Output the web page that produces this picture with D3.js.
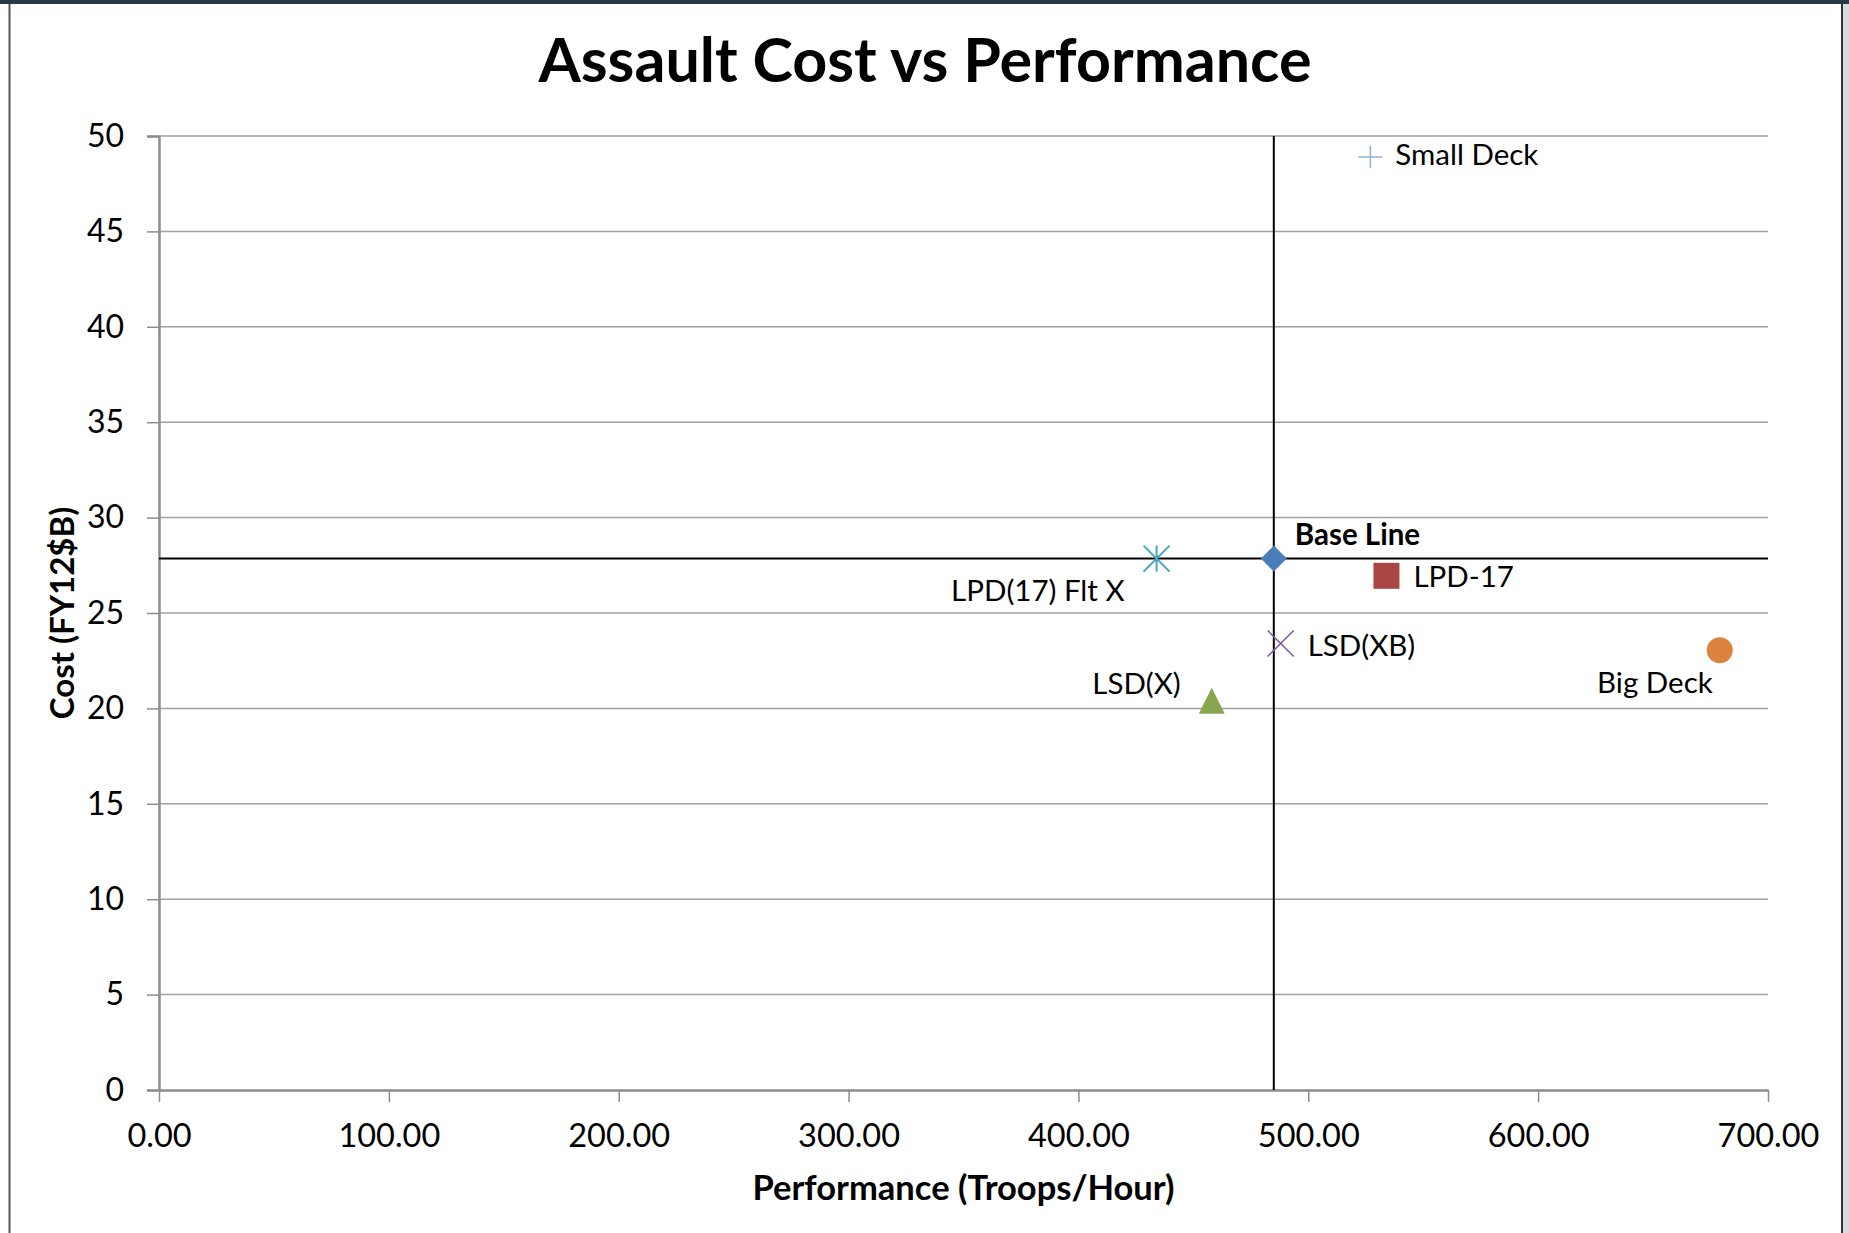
<!DOCTYPE html>
<html>
<head>
<meta charset="utf-8">
<script src="https://cdn.jsdelivr.net/npm/d3@7"></script>
<style>
  html, body { margin: 0; padding: 0; background: #ffffff; }
  svg { display: block; }
  text { font-family: Lato, "Open Sans", "Liberation Sans", sans-serif; fill: #000; }
</style>
</head>
<body>
<svg id="chart" width="1849" height="1233"></svg>
<script>
// Ship options: troop throughput vs acquisition cost
const shipNames   = ["Base Line", "LPD-17", "LSD(X)", "LSD(XB)", "LPD(17) Flt X", "Big Deck", "Small Deck"];
const performance = [485, 534, 458, 488, 434, 679, 527];
const cost        = [27.85, 26.95, 20.4, 23.4, 27.85, 23.05, 48.9];
const markerShape = ["diamond", "square", "triangle", "x", "star", "circle", "plus"];
const markerColor = ["#4a7ebb", "#aa4643", "#89a54e", "#7d60a0", "#4ba3c0", "#db843d", "#95b3d7"];

const xTicks = [0, 100, 200, 300, 400, 500, 600, 700];
const yTicks = [0, 5, 10, 15, 20, 25, 30, 35, 40, 45, 50];

const titleText = "Assault Cost vs Performance";
const xTitle = "Performance (Troops/Hour)";
const yTitle = "Cost (FY12$B)";

const W = 1849, H = 1233;
const plot = { left: 159, right: 1768, top: 136, bottom: 1090 };

const svg = d3.select("#chart");

// window frame around the slide
svg.append("rect").attr("x", 0).attr("y", 0).attr("width", W).attr("height", H).attr("fill", "#ffffff");
svg.append("rect").attr("x", 1843).attr("y", 0).attr("width", 6).attr("height", H).attr("fill", "#d6dbe2");
svg.append("rect").attr("x", 0).attr("y", 0).attr("width", W).attr("height", 4).attr("fill", "#2b3a4b");
svg.append("line").attr("x1", 9.5).attr("x2", 9.5).attr("y1", 4).attr("y2", H)
  .attr("stroke", "#555").attr("stroke-width", 2);
svg.append("line").attr("x1", 1842).attr("x2", 1842).attr("y1", 4).attr("y2", H)
  .attr("stroke", "#333").attr("stroke-width", 2);

const x = d3.scaleLinear().domain([0, 700]).range([plot.left, plot.right]);
const y = d3.scaleLinear().domain([0, 50]).range([plot.bottom, plot.top]);

// horizontal gridlines
svg.append("g").selectAll("line").data(yTicks.filter(t => t > 0)).join("line")
  .attr("x1", plot.left).attr("x2", plot.right)
  .attr("y1", d => y(d)).attr("y2", d => y(d))
  .attr("stroke", "#a0a0a0").attr("stroke-width", 1.5);

// y axis
const yAxis = d3.axisLeft(y).tickValues(yTicks).tickSize(12).tickPadding(23).tickFormat(d3.format("d"));
const gy = svg.append("g").attr("transform", `translate(${plot.left},0)`).call(yAxis);
gy.select(".domain").attr("stroke", "#8c8c8c").attr("stroke-width", 2.5);
gy.selectAll(".tick line").attr("stroke", "#8c8c8c").attr("stroke-width", 1.5);
gy.selectAll(".tick text").attr("font-size", 32).attr("font-family", "Lato").attr("fill", "#000");

// x axis
const xAxis = d3.axisBottom(x).tickValues(xTicks).tickSize(12).tickSizeOuter(0).tickPadding(22).tickFormat(d3.format(".2f"));
const gx = svg.append("g").attr("transform", `translate(0,${plot.bottom})`).call(xAxis);
gx.select(".domain").attr("stroke", "#8c8c8c").attr("stroke-width", 2.5);
gx.selectAll(".tick line").attr("stroke", "#8c8c8c").attr("stroke-width", 1.5);
gx.selectAll(".tick text").attr("font-size", 32.5).attr("font-family", "Lato").attr("fill", "#000");

// crosshair through the Base Line option
const baseIdx = shipNames.indexOf("Base Line");
svg.append("line")
  .attr("x1", plot.left).attr("x2", plot.right)
  .attr("y1", y(cost[baseIdx])).attr("y2", y(cost[baseIdx]))
  .attr("stroke", "#000").attr("stroke-width", 2);
svg.append("line")
  .attr("x1", x(performance[baseIdx])).attr("x2", x(performance[baseIdx]))
  .attr("y1", plot.top).attr("y2", plot.bottom)
  .attr("stroke", "#000").attr("stroke-width", 2);

// marker drawing
function drawMarker(g, shape, color) {
  const s = 13;
  switch (shape) {
    case "diamond":
      g.append("path").attr("d", `M0,${-s}L${s},0L0,${s}L${-s},0Z`).attr("fill", color);
      break;
    case "square":
      g.append("rect").attr("x", -s).attr("y", -s).attr("width", 2 * s).attr("height", 2 * s).attr("fill", color);
      break;
    case "triangle":
      g.append("path").attr("d", `M0,${-s}L${s},${s}L${-s},${s}Z`).attr("fill", color);
      break;
    case "circle":
      g.append("circle").attr("r", s).attr("fill", color);
      break;
    case "x":
      g.append("path").attr("d", `M${-s},${-s}L${s},${s}M${-s},${s}L${s},${-s}`)
        .attr("stroke", color).attr("stroke-width", 1.6).attr("fill", "none");
      break;
    case "star":
      g.append("path").attr("d", `M${-s},${-s}L${s},${s}M${-s},${s}L${s},${-s}M0,${-s}L0,${s}`)
        .attr("stroke", color).attr("stroke-width", 2).attr("fill", "none");
      break;
    case "plus":
      g.append("path").attr("d", `M${-12},0L${12},0M0,${-11}L0,${11}`)
        .attr("stroke", color).attr("stroke-width", 1.6).attr("fill", "none");
      break;
  }
}

const points = shipNames.map((name, i) => ({
  name, px: performance[i], cost: cost[i], shape: markerShape[i], color: markerColor[i]
}));

const markers = svg.append("g").selectAll("g").data(points).join("g")
  .attr("transform", d => `translate(${x(d.px)},${y(d.cost)})`);
markers.each(function (d) { drawMarker(d3.select(this), d.shape, d.color); });

// data label placement relative to each marker
const labelPlacement = {
  "Base Line":     { dx: 21,  dy: -24, anchor: "start", bold: true },
  "LPD-17":        { dx: 27,  dy: 1,   anchor: "start" },
  "LSD(X)":        { dx: -31, dy: -17, anchor: "end" },
  "LSD(XB)":       { dx: 27,  dy: 2,   anchor: "start" },
  "LPD(17) Flt X": { dx: -32, dy: 32,  anchor: "end" },
  "Big Deck":      { dx: -7,  dy: 32,  anchor: "end" },
  "Small Deck":    { dx: 25,  dy: -2,  anchor: "start" }
};

svg.append("g").selectAll("text").data(points).join("text")
  .attr("x", d => x(d.px) + labelPlacement[d.name].dx)
  .attr("y", d => y(d.cost) + labelPlacement[d.name].dy)
  .attr("dy", "0.35em")
  .attr("text-anchor", d => labelPlacement[d.name].anchor)
  .attr("font-size", 29.5)
  .attr("font-weight", d => labelPlacement[d.name].bold ? 700 : 400)
  .text(d => d.name);

// titles
svg.append("text").attr("x", 925).attr("y", 82).attr("text-anchor", "middle")
  .attr("font-size", 61).attr("font-weight", 700).text(titleText);

svg.append("text").attr("x", (plot.left + plot.right) / 2).attr("y", 1200).attr("text-anchor", "middle")
  .attr("font-size", 34.5).attr("font-weight", 700).text(xTitle);

svg.append("text")
  .attr("transform", `translate(74,${(plot.top + plot.bottom) / 2}) rotate(-90)`)
  .attr("text-anchor", "middle")
  .attr("font-size", 33).attr("font-weight", 700).text(yTitle);
</script>
</body>
</html>
